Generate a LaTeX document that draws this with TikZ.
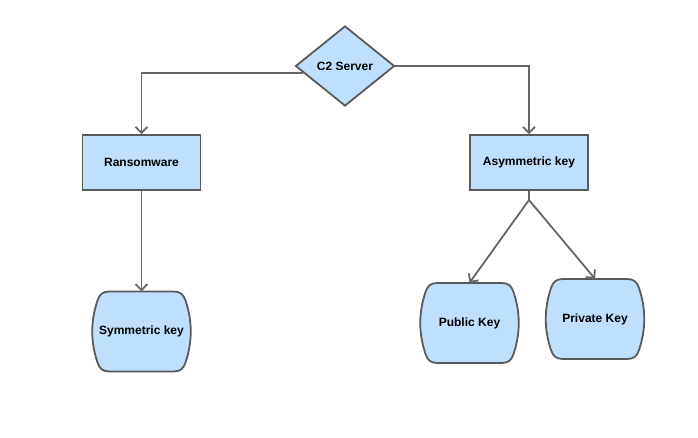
\documentclass[tikz,border=0pt]{standalone}
\usepackage{fontspec}
\setmainfont{Liberation Sans}
\usetikzlibrary{shapes.geometric,arrows.meta}
\definecolor{boxfill}{HTML}{BFDFFF}
\definecolor{boxline}{HTML}{5A5A5A}
\definecolor{wirecol}{HTML}{666666}
\tikzset{
 lbl/.style={font=\bfseries\fontsize{12}{14}\selectfont, text=black},
 rectbox/.style={draw=boxline, fill=boxfill, line width=1.8pt, minimum width=118pt, minimum height=55pt, inner sep=0pt, lbl},
 decision/.style={diamond, draw=boxline, fill=boxfill, line width=1.8pt, minimum width=99pt, minimum height=80pt, inner sep=0pt, lbl},
 barrel/.style={draw=boxline, fill=boxfill, line width=1.8pt, line join=round},
 keynode/.style={minimum width=96pt, minimum height=80pt, inner sep=0pt, lbl},
 wire/.style={draw=wirecol, line width=1.8pt},
 tip/.style={-{Straight Barb[length=6pt,width=12pt]}},
}
\newcommand\barrelnode[4]{%
\draw[barrel] (#2-32,#3-40) -- (#2+32,#3-40)
  .. controls (#2+39,#3-40) and (#2+42,#3-37) .. (#2+44,#3-31)
  .. controls (#2+51,#3-10) and (#2+51,#3+10) .. (#2+44,#3+31)
  .. controls (#2+42,#3+37) and (#2+39,#3+40) .. (#2+32,#3+40)
  -- (#2-32,#3+40)
  .. controls (#2-39,#3+40) and (#2-42,#3+37) .. (#2-44,#3+31)
  .. controls (#2-51,#3+10) and (#2-51,#3-10) .. (#2-44,#3-31)
  .. controls (#2-42,#3-37) and (#2-39,#3-40) .. cycle;
\node[keynode] (#1) at (#2,#3) {#4};}
\begin{document}
\begin{tikzpicture}[x=1pt,y=-1pt]
\fill[white] (0,0) rectangle (698,438);
\useasboundingbox (0,0) rectangle (698,438);
\node[decision] (c2) at (345,66) {C2 Server};
\node[rectbox] (ran) at (141.5,162.5) {Ransomware};
\node[rectbox] (asy) at (529,162.5) {Asymmetric key};
\barrelnode{sym}{141.5}{331.5}{Symmetric key}
\barrelnode{pub}{469.5}{323}{Public Key}
\barrelnode{priv}{595}{319}{Private Key}
\coordinate (split) at (529,200);
\draw[wire,tip] (c2.west) ++(8.6,7) -| (ran.north);
\draw[wire,tip] (c2.east) -| (asy.north);
\draw[wire,tip] (ran.south) -- (sym.north);
\draw[wire] (asy.south) -- (split);
\draw[wire,tip] (split) -- (pub.north);
\draw[wire,tip] (split) -- (priv.north);
\end{tikzpicture}
\end{document}
